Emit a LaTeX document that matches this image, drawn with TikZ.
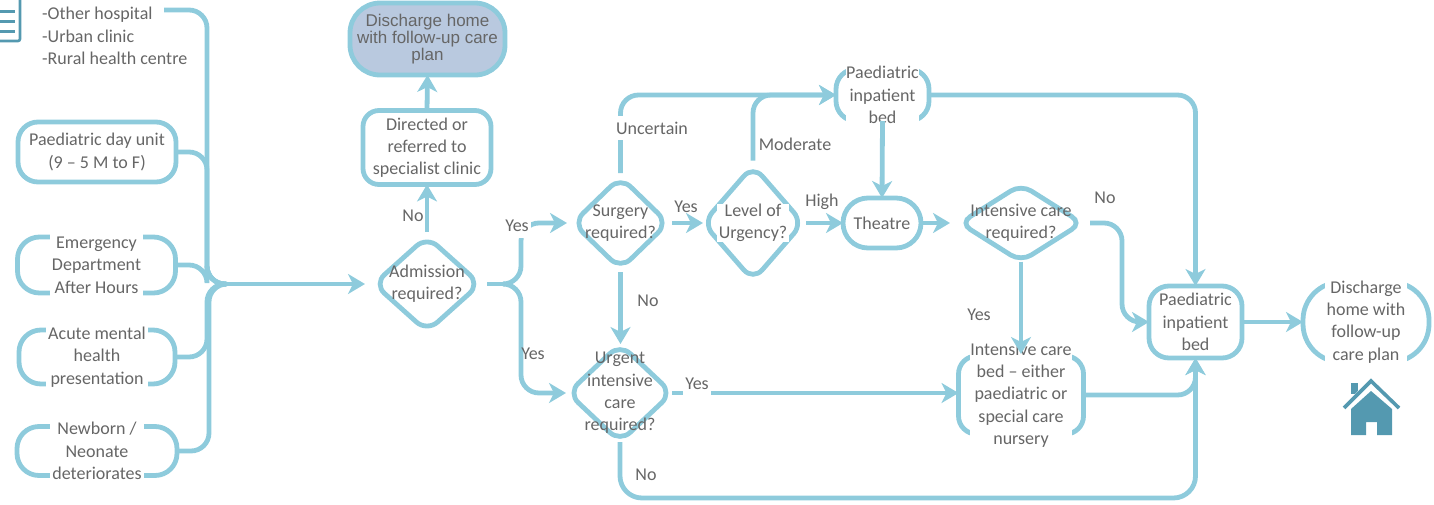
\documentclass[tikz,border=0pt]{standalone}
\usepackage{fontspec}
\setmainfont{Carlito}
\newfontfamily\arialfont{Liberation Sans}
\usetikzlibrary{shapes.geometric,arrows.meta}
\definecolor{flow}{HTML}{8ECBDC}
\definecolor{ink}{HTML}{666666}
\definecolor{homeblue}{HTML}{5499B0}
\definecolor{endfill}{HTML}{B9C9DF}
\tikzset{
  x=1pt,y=-1pt,
  shapeline/.style={draw=flow,line width=4.8pt,inner sep=0pt,outer sep=0pt},
  pill/.style={shapeline,rectangle,rounded corners=#1},
  pill/.default=20pt,
  decision/.style={shapeline,diamond,rounded corners=14pt},
  bodytext/.style={text=ink,font=\fontsize{18}{22.3}\selectfont,align=center,inner sep=0pt},
  covertext/.style={bodytext,fill=white,inner xsep=2pt,inner ysep=3pt},
  conn/.style={draw=flow,line width=4.8pt,rounded corners=18pt},
  arrow/.style={conn,-{Stealth[length=17pt,width=20pt,inset=5pt]}},
  edgetext/.style={text=ink,font=\fontsize{18}{20}\selectfont,fill=white,inner xsep=2pt,inner ysep=6pt},
  edgeplain/.style={text=ink,font=\fontsize{18}{20}\selectfont,inner sep=0pt}
}
\begin{document}
\begin{tikzpicture}
\useasboundingbox (0,0) rectangle (1434,504);
\begin{scope}
\clip (0,0) rectangle (1434,504);
% document icon
\draw[homeblue,line width=2.6pt,rounded corners=2pt] (-12,-4) -- (-12,41) -- (20,41) -- (20,-4);
\foreach \yy in {11,21,31}{\draw[homeblue,line width=3pt] (-4,\yy) -- (15,\yy);}
\end{scope}
% source nodes
\node[bodytext,align=left,anchor=west] (referrers) at (42,36) {-Other hospital\\-Urban clinic\\-Rural health centre};
\coordinate (refout) at (164,10);
\node[pill=20pt,minimum width=158pt,minimum height=60pt,label={[bodytext]center:{Paediatric day unit\\(9 -- 5 M to F)}}] (day) at (97,152) {};
\node[pill=22pt,minimum width=158pt,minimum height=56pt,label={[covertext]center:{Emergency\\Department\\After Hours}}] (ed) at (96.5,265) {};
\node[pill=22pt,minimum width=156pt,minimum height=54pt,label={[covertext]center:{Acute mental\\health\\presentation}}] (mental) at (97,357) {};
\node[pill=22pt,minimum width=160pt,minimum height=49pt,label={[covertext]center:{Newborn /\\Neonate\\deteriorates}}] (newborn) at (97,451) {};
% centre column
\node[decision,minimum width=106pt,minimum height=95pt,label={[bodytext]center:{Admission\\required?}}] (admit) at (427,284) {};
\node[pill=16pt,minimum width=128pt,minimum height=74pt,label={[bodytext]center:{Directed or\\referred to\\specialist clinic}}] (direct) at (427,147.5) {};
\node[pill=30pt,fill=endfill,minimum width=155pt,minimum height=72pt,label={[text=ink,align=center,inner sep=0pt,font=\arialfont\fontsize{17}{17}\selectfont]center:{Discharge home\\with follow-up care\\plan}}] (home1) at (427.5,39) {};
\node[decision,minimum width=95pt,minimum height=92pt,label={[bodytext]center:{Surgery\\required?}}] (surgery) at (620.5,223) {};
\node[decision,minimum width=100pt,minimum height=115pt,label={[covertext,inner ysep=0pt]center:{Level of\\Urgency?}}] (urgency) at (753,223) {};
\node[pill=25pt,minimum width=78pt,minimum height=50pt,label={[bodytext]center:{Theatre}}] (theatre) at (882,223) {};
\node[decision,rounded corners=12pt,minimum width=122pt,minimum height=77pt,label={[bodytext]center:{Intensive care\\required?}}] (icureq) at (1021,223) {};
\node[pill=20pt,minimum width=93pt,minimum height=52pt,label={[covertext,inner xsep=0pt]center:{Paediatric\\inpatient\\bed}}] (bedtop) at (882.5,95) {};
\node[decision,minimum width=104pt,minimum height=98pt,label={[bodytext]center:{Urgent\\intensive\\care\\required?}}] (urgent) at (620,393) {};
\node[pill=18pt,minimum width=125pt,minimum height=78pt,label={[covertext,inner xsep=0pt]center:{Intensive care\\bed -- either\\paediatric or\\special care\\nursery}}] (icubed) at (1021,395) {};
\node[pill=20pt,minimum width=93pt,minimum height=72pt,label={[bodytext]center:{Paediatric\\inpatient\\bed}}] (bedright) at (1195.5,322) {};
\node[pill=38pt,minimum width=126pt,minimum height=80pt,label={[covertext]center:{Discharge\\home with\\follow-up\\care plan}}] (home2) at (1366,322) {};
% junctions
\coordinate (merge) at (226,284);
\coordinate (split) at (505,284);
% connectors into admission
\draw[conn] (refout) -- (207,10) -- (207,284) -- (merge);
\draw[conn] (day.east) -- (207,152) -- (207,284) -- (merge);
\draw[conn] (ed.east) -- (207,265) -- (207,284) -- (merge);
\draw[conn] (mental.east) -- (207,357) -- (207,284) -- (merge);
\draw[conn] (newborn.east) -- (209,451) -- (209,284) -- (merge);
\draw[arrow] (merge) -- (admit.west) [shorten >=9pt];
% admission out
\draw[arrow] (admit.north) [shorten <=5pt] -- (direct.south);
\draw[arrow] (direct.north) -- (home1.south);
\draw[conn] (admit.east) [shorten <=7pt] -- (split);
\draw[arrow] (split) -- (521,284) -- (521,223) -- (surgery.west) [shorten >=6pt];
\draw[arrow] (split) -- (521,284) -- (521,393) -- (urgent.west) [shorten >=2pt];
% surgery
\draw[arrow] (surgery.north) [shorten <=4pt] -- (620.5,95) -- (bedtop.west);
\draw[arrow] (urgency.north) [shorten <=5pt] -- (753,95) -- (bedtop.west);
\draw[arrow] (surgery.east) [shorten <=4pt] -- (urgency.west);
\draw[arrow] (urgency.east) [shorten <=3pt] -- (theatre.west);
\draw[arrow] (surgery.south) [shorten <=3pt] -- (surgery.south |- urgent.north);
\draw[arrow] (bedtop.south) -- (theatre.north);
\draw[arrow] (theatre.east) [shorten >=10pt] -- (icureq.west);
% right side
\draw[arrow] (icureq.east) [shorten <=8pt] -- (1122,223) -- (1122,322) -- (bedright.west);
\draw[arrow] (icureq.south) -- (icubed.north) [shorten >=2pt];
\draw[arrow] (bedtop.east) -- (1195.5,95) -- (bedright.north);
\draw[arrow] (icubed.east) -- (1195.5,395) -- (bedright.south);
\draw[arrow] (urgent.east) -- (icubed.west |- urgent.east);
\draw[arrow,rounded corners=22pt] (urgent.south) -- (620,498) -- (1195.5,498) -- (bedright.south);
\draw[arrow] (bedright.east) -- (home2.west);
% edge labels
\node[edgeplain] (lno1) at (413,216) {No};
\node[edgetext] (lyes1) at (517,226) {Yes};
\node[edgeplain] (lyes2) at (533,354) {Yes};
\node[edgetext] (lunc) at (652,128) {Uncertain};
\node[edgeplain] (lmod) at (795,144) {Moderate};
\node[edgeplain] (lyes3) at (686,207) {Yes};
\node[edgeplain] (lhigh) at (822,202) {High};
\node[edgeplain] (lno2) at (648,301) {No};
\node[edgetext] (lyes4) at (697,384) {Yes};
\node[edgeplain] (lno3) at (646,475) {No};
\node[edgeplain] (lno4) at (1105,198) {No};
\node[edgeplain] (lyes5) at (979,315) {Yes};
% house icon
\fill[homeblue] (1351,383) rectangle (1358,394);
\fill[white] (1343,407) -- (1371,377) -- (1400,407) -- (1371,395) -- cycle;
\draw[homeblue,line width=3.6pt] (1344,408) -- (1371,381) -- (1399,408);
\fill[homeblue] (1351,435) -- (1351,409) -- (1371,391) -- (1392,409) -- (1392,435) -- (1377,435) -- (1377,422) -- (1366,422) -- (1366,435) -- cycle;
\end{tikzpicture}
\end{document}
